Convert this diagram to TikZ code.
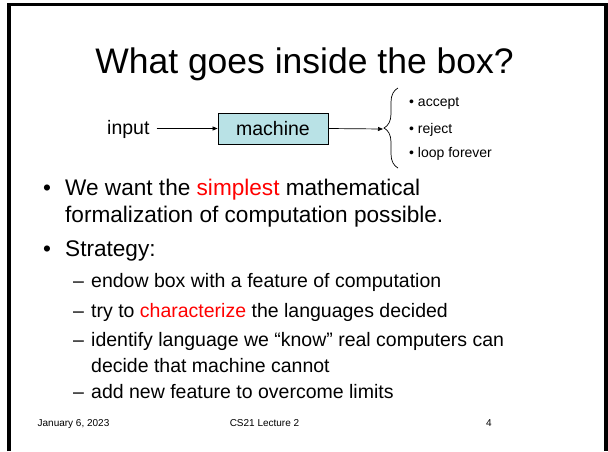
\documentclass[tikz,border=0pt]{standalone}
\usepackage{fontspec}
\setmainfont{Liberation Sans}
\usetikzlibrary{arrows.meta,decorations.pathreplacing}
\definecolor{boxfill}{RGB}{185,226,230}

\begin{document}
\begin{tikzpicture}[x=1pt,y=-1pt,
    txt/.style={anchor=base west,inner sep=0pt},
    title/.style={anchor=base,inner sep=0pt,font=\fontsize{35.5}{40}\selectfont},
    body/.style={txt,font=\fontsize{22.6}{27}\selectfont},
    sub/.style={txt,font=\fontsize{19.5}{23}\selectfont},
    small/.style={txt,font=\fontsize{14}{17}\selectfont},
    foot/.style={anchor=base,inner sep=0pt,font=\fontsize{10}{12}\selectfont},
    machinebox/.style={draw,line width=0.8pt,fill=boxfill,minimum width=110pt,
      minimum height=31pt,inner sep=0pt,font=\fontsize{19.5}{23}\selectfont},
    arr/.style={-{Triangle[length=5pt,width=4pt]},line width=0.7pt},
    brace/.style={decorate,decoration={brace,amplitude=14pt},line width=0.7pt}
  ]
  \useasboundingbox (0,0) rectangle (608,451);
  % slide frame, open at the bottom
  \draw[line width=3.3pt] (9,451) -- (9,4.5) -- (606,4.5) -- (606,451);
  \node[title] (heading) at (304.5,73) {What goes inside the box?};

  % input -> machine -> outcomes
  \node[sub] (input) at (107,134) {input};
  \node[machinebox] (machine) at (273,128.5) {machine};
  \coordinate (instart) at ([xshift=7pt]input.east);
  \coordinate (tip) at (383,129);
  \coordinate (bracetop) at (398,88);
  \coordinate (bracebot) at (398,168);
  \draw[arr] (instart |- machine.west) -- (machine.west);
  \draw[arr] (machine.east) -- (tip);
  \draw[brace] (bracebot) -- (bracetop);
  \node[small] (accept) at (409,106) {\textbullet\ accept};
  \node[small] (reject) at (409,133) {\textbullet\ reject};
  \node[small] (loop) at (409,157) {\textbullet\ loop forever};

  % bullets
  \node[body] (b1) at (43,195) {\textbullet};
  \node[body] (l1) at (65,195) {We want the \textcolor{red}{simplest} mathematical};
  \node[body] (l2) at (65,222) {formalization of computation possible.};
  \node[body] (b2) at (43,256) {\textbullet};
  \node[body] (l3) at (65,256) {Strategy:};
  \foreach \y [count=\i] in {287,317,346,398}
    \node[sub] (d\i) at (73,\y) {--};
  \node[sub] (s1) at (91,287) {endow box with a feature of computation};
  \node[sub] (s2) at (91,317) {try to \textcolor{red}{characterize} the languages decided};
  \node[sub] (s3) at (91,346) {identify language we “know” real computers can};
  \node[sub] (s4) at (91,372) {decide that machine cannot};
  \node[sub] (s5) at (91,398) {add new feature to overcome limits};

  % footer
  \node[foot] (date) at (73.5,426) {January 6, 2023};
  \node[foot] (course) at (264.5,426) {CS21 Lecture 2};
  \node[foot] (page) at (489,426) {4};
\end{tikzpicture}
\end{document}
